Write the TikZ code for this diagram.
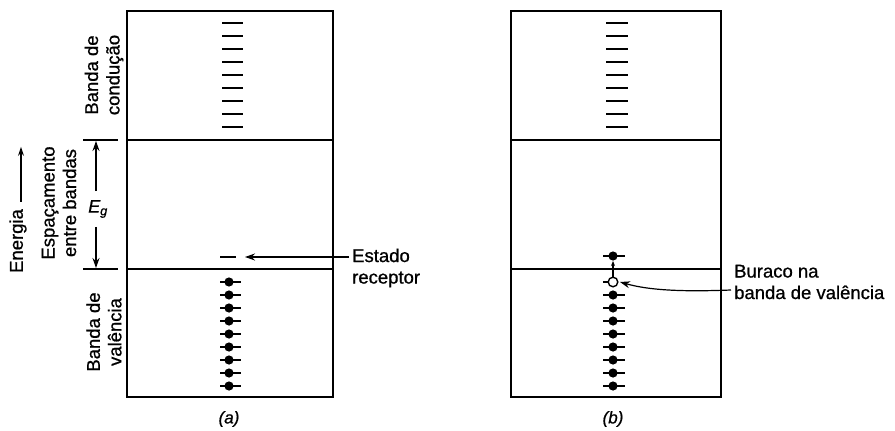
\documentclass[tikz,border=0pt]{standalone}
\usepackage{fontspec}
\setmainfont{Liberation Sans}[FakeBold=0.8]
\usetikzlibrary{arrows.meta}
\begin{document}
\begin{tikzpicture}[x=1pt,y=-1pt,
  frame/.style={line width=2pt},
  divider/.style={line width=1.5pt},
  level/.style={line width=1.8pt},
  pointer/.style={line width=1.2pt,-{Stealth[length=10pt,width=7pt]}},
  lbl/.style={font=\fontsize{18.5}{21.5}\selectfont, align=center, inner sep=0pt},
  side/.style={lbl, rotate=90},
  captxt/.style={font=\fontsize{17}{20}\selectfont\itshape, inner sep=0pt}]
\useasboundingbox (0,0) rectangle (895,431);

% ---------- panel (a) ----------
\draw[frame] (127,11) rectangle (333,397);
\draw[divider] (127,140) -- (333,140);
\draw[divider] (127,269) -- (333,269);
% conduction band levels
\foreach \i in {0,...,8}
  \draw[level] (222,{23+13*\i}) -- (243,{23+13*\i});
% acceptor level (empty)
\coordinate (accA) at (245,257);
\draw[level] (220,257) -- (236,257);
% valence band, all states filled
\foreach \i in {0,...,8} {
  \draw[level] (220,{282+13*\i}) -- (241,{282+13*\i});
  \fill (229,{282+13*\i}) circle (4.6pt);
}
\node[captxt] (capa) at (229,419) {(a)};

% ---------- panel (b) ----------
\draw[frame] (511,11) rectangle (721,397);
\draw[divider] (511,140) -- (721,140);
\draw[divider] (511,269) -- (721,269);
\foreach \i in {0,...,8}
  \draw[level] (606,{23+13*\i}) -- (628,{23+13*\i});
% acceptor level now holding an electron
\draw[level] (603,256) -- (625,256);
\fill (613,256) circle (4.6pt);
% valence band with one hole at the top
\foreach \i in {1,...,8} {
  \draw[level] (603,{282+13*\i}) -- (625,{282+13*\i});
  \fill (613,{282+13*\i}) circle (4.6pt);
}
\draw[level] (603,282) -- (608,282);
\draw[line width=1.4pt, fill=white] (613,282) circle (4.8pt);
\coordinate (holetop) at (613,277);
\coordinate (accB) at (613,261);
\draw[line width=1.1pt,-{Stealth[length=5pt,width=4pt]}] (holetop) -- (accB);
\coordinate (holeR) at (620,282);
\node[captxt] (capb) at (613,419) {(b)};

% ---------- left-hand labels ----------
\node[side] (cond) at (104,75) {Banda de\\condução};
\node[side] (val) at (104,332) {Banda de\\valência};
\node[side] (gap) at (59,203) {Espaçamento\\entre bandas};
\node[side] (energia) at (18,241) {Energia};
\draw[line width=1.2pt,-{Stealth[length=9pt,width=6pt]}]
  ([xshift=3pt,yshift=7pt]energia.east) -- ++(0,-55);

% band-gap marker
\draw[level] (83,140) -- (118,140);
\draw[level] (83,269) -- (118,269);
\node[font=\fontsize{18}{20}\selectfont\itshape, inner sep=1pt] (eg) at (98,209) {E\textsubscript{g}};
\coordinate (gtop) at (96,141);
\coordinate (gbot) at (96,268);
\draw[pointer] (eg.north) ++(-2,-8) -- (gtop);
\draw[pointer] (eg.south) ++(-2,8) -- (gbot);

% ---------- right-hand labels ----------
\node[lbl, align=left, anchor=west] (estado) at (352,268) {Estado\\receptor};
\coordinate (estadoarr) at (349,257);
\draw[pointer] (estadoarr) -- (accA);

\node[lbl, align=left, anchor=west] (buraco) at (734,282) {Buraco na\\banda de valência};
\coordinate (buracoarr) at (731,290);
\draw[pointer] (buracoarr) .. controls (680,292) and (648,290) .. (holeR);
\end{tikzpicture}
\end{document}
